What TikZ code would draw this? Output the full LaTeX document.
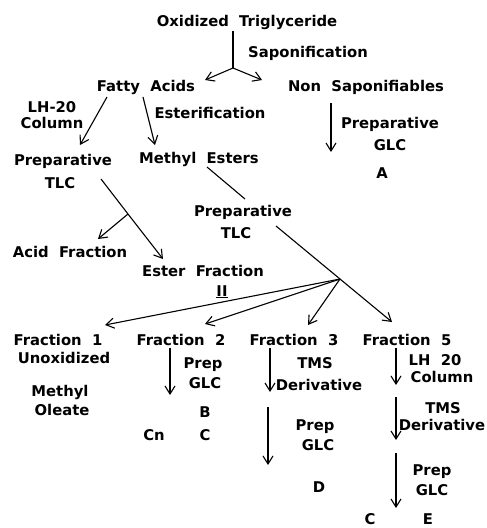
\documentclass[tikz,border=0pt]{standalone}
\usepackage{fontspec}
\setmainfont{DejaVu Sans}[WordSpace=2.0]
\usepackage{tikz}
\usetikzlibrary{arrows.meta,calc}

\begin{document}
\begin{tikzpicture}[x=1pt,y=-1pt,
  every node/.style={inner sep=0pt,anchor=base,text height=11pt,text depth=3pt,font=\fontsize{14.8}{17}\selectfont\bfseries},
  line/.style={line width=1.1pt},
  flow/.style={line width=1.1pt,-{Straight Barb[length=8pt,width=10pt]}}]
  \useasboundingbox (0,0) rectangle (487,528);
  \foreach \nm/\x/\y/\lab in {ox/247/26/Oxidized Triglyceride, sap/308/57/Saponification,
      fa/146/91/Fatty Acids, ns/366/91/Non Saponifiables, lhA/52/112/LH-20, colA/52/128/Column,
      est/210/118/Esterification, prepA/390/128/Preparative, glcA/390/150/GLC, lblA/382/178/A,
      prepL/63/165/Preparative, tlcL/60/188/TLC, me/199/163/Methyl Esters,
      prepM/243/216/Preparative, tlcM/236/238/TLC, acid/70/257/Acid Fraction,
      ester/203/276/Ester Fraction, two/222/296/\underline{II},
      fr1/58/345/Fraction 1, unox/64/363/Unoxidized, meth/60/396/Methyl, ol/62/415/Oleate,
      fr2/181/345/Fraction 2, prepB/203/368/Prep, glcB/205/388/GLC, lblB/205/417/B,
      cn/154/440/Cn, lblC/205/440/C,
      fr3/294/345/Fraction 3, tms3/315/368/TMS, der3/319/390/Derivative,
      prepD/315/430/Prep, glcD/318/450/GLC, lblD/319/492/D,
      fr5/407/345/Fraction 5, lh5/435/365/LH 20, col5/442/382/Column, tms5/443/413/TMS,
      der5/442/430/Derivative, prepE/432/475/Prep, glcE/432/495/GLC, lblCE/370/524/C, lblE/428/524/E}{
    \node (\nm) at (\x,\y) {\lab};
  }
  % branch points
  \coordinate (split) at (233,68);
  \coordinate (split2) at (340,279);
  \coordinate (split3) at (128,214);

  \draw[line] ($(ox.base)+(-14,5)$) -- (split);
  \draw[flow] (split) -- ($(fa.base)+(59,-11)$);
  \draw[flow] (split) -- ($(ns.base)+(-104,-11)$);
  \draw[flow] ($(fa.base)+(-39,6)$) -- ($(prepL.base)+(17,-20)$);
  \draw[flow] ($(fa.base)+(-3,6)$) -- ($(me.base)+(-44,-18)$);
  \draw[flow] ($(ns.base)+(-35,12)$) -- ($(glcA.base)+(-59,2)$);
  \draw[line] ($(me.base)+(8,4)$) -- ($(prepM.base)+(2,-17)$);
  \draw[flow] ($(tlcM.base)+(40,-12)$) -- (split2) -- ($(fr5.base)+(-15,-23)$);
  \draw[flow] (split2) -- ($(fr1.base)+(47,-20)$);
  \draw[flow] (split2) -- ($(fr2.base)+(24,-21)$);
  \draw[flow] (split2) -- ($(fr3.base)+(14,-20)$);
  \draw[flow] ($(tlcL.base)+(41,-9)$) -- (split3) -- ($(ester.base)+(-40,-17)$);
  \draw[flow] (split3) -- ($(acid.base)+(28,-18)$);
  % fraction columns
  \draw[flow] ($(fr2.base)+(-11,3)$) -- ($(cn.base)+(16,-45)$);
  \draw[flow] ($(fr3.base)+(-24,3)$) -- ($(der3.base)+(-49,2)$);
  \draw[flow] ($(der3.base)+(-51,17)$) -- ($(lblD.base)+(-51,-27)$);
  \draw[flow] ($(fr5.base)+(-11,3)$) -- ($(col5.base)+(-46,3)$);
  \draw[flow] ($(col5.base)+(-46,15)$) -- ($(der5.base)+(-46,10)$);
  \draw[flow] ($(der5.base)+(-46,23)$) -- ($(lblCE.base)+(26,-16)$);
\end{tikzpicture}
\end{document}
